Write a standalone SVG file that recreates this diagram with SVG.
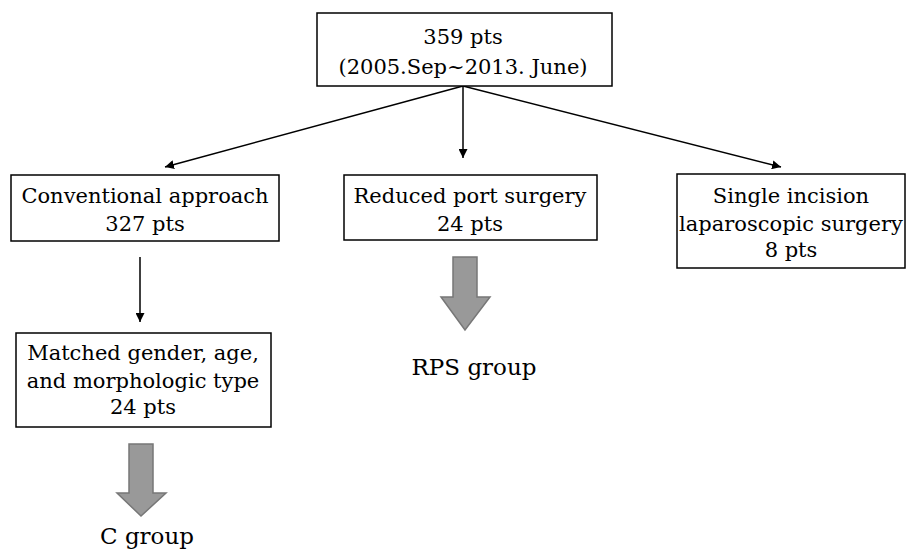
<svg xmlns="http://www.w3.org/2000/svg" width="906" height="549" viewBox="0 0 906 549">
<defs>
<marker id="ah" viewBox="0 0 10 10" refX="10" refY="5" markerWidth="9" markerHeight="9" markerUnits="userSpaceOnUse" orient="auto">
<path d="M0,0 L10,5 L0,10 z" fill="#000"/>
</marker>
</defs>
<style>
.box{fill:#fff;stroke:#000;stroke-width:1.5}
.t{font-family:"DejaVu Serif","Liberation Serif",serif;font-size:21px;fill:#000;text-anchor:middle}
.g{font-size:23px}
.ln{stroke:#000;stroke-width:1.5;fill:none}
.big{fill:#999;stroke:#777;stroke-width:1.5}
</style>
<rect width="906" height="549" fill="#fff"/>
<g id="connectors">
<line class="ln" x1="463" y1="86" x2="165" y2="167" marker-end="url(#ah)"/>
<line class="ln" x1="463" y1="86" x2="463" y2="158" marker-end="url(#ah)"/>
<line class="ln" x1="463" y1="86" x2="781" y2="167" marker-end="url(#ah)"/>
<line class="ln" x1="140" y1="257" x2="140" y2="322" marker-end="url(#ah)"/>
<path class="big" d="M453,257 L477,257 L477,297 L490,297 L465,330 L441,297 L453,297 Z"/>
<path class="big" d="M129,444 L153,444 L153,493 L166,493 L141,516 L117,493 L129,493 Z"/>
</g>
<g id="n-top">
<rect class="box" x="317" y="13" width="295" height="73"/>
<text class="t" x="463" y="44">359 pts</text>
<text class="t" x="463" y="74">(2005.Sep~2013. June)</text>
</g>
<g id="n-conv">
<rect class="box" x="11" y="175" width="268" height="66"/>
<text class="t" x="145" y="203">Conventional approach</text>
<text class="t" x="145" y="231">327 pts</text>
</g>
<g id="n-rps">
<rect class="box" x="344" y="175" width="253" height="65"/>
<text class="t" x="470" y="203">Reduced port surgery</text>
<text class="t" x="470" y="231">24 pts</text>
</g>
<g id="n-sils">
<rect class="box" x="677" y="174" width="228" height="94"/>
<text class="t" x="791" y="203">Single incision</text>
<text class="t" x="791" y="231">laparoscopic surgery</text>
<text class="t" x="791" y="257">8 pts</text>
</g>
<g id="n-matched">
<rect class="box" x="16" y="333" width="255" height="94"/>
<text class="t" x="143" y="360">Matched gender, age,</text>
<text class="t" x="143" y="388">and morphologic type</text>
<text class="t" x="143" y="414">24 pts</text>
</g>
<g id="n-rpsgroup">
<text class="t g" x="474" y="375">RPS group</text>
</g>
<g id="n-cgroup">
<text class="t g" x="147" y="544">C group</text>
</g>
</svg>
